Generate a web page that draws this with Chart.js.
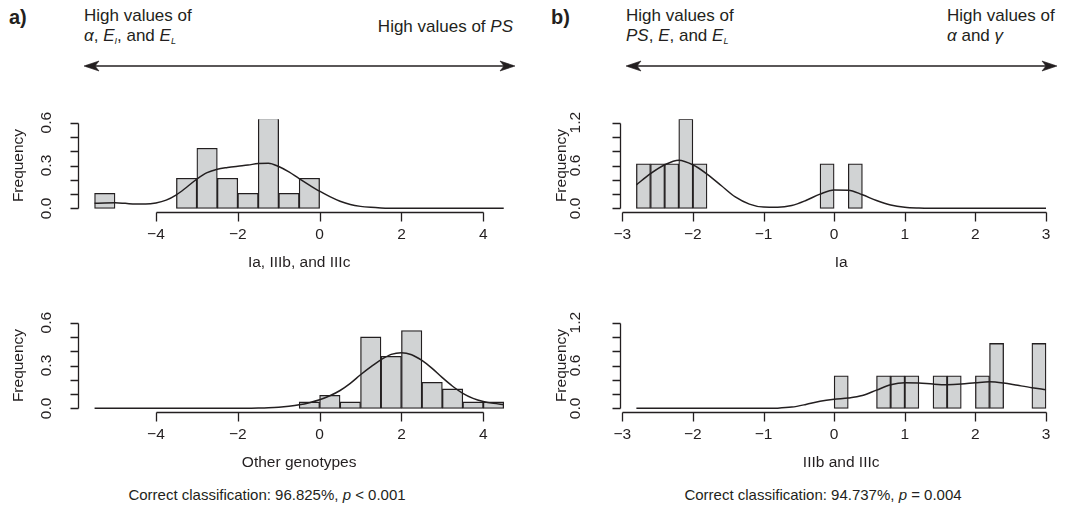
<!DOCTYPE html>
<html>
<head>
<meta charset="utf-8">
<script src="https://cdn.jsdelivr.net/npm/chart.js@4.4.1/dist/chart.umd.min.js"></script>
<style>
  body { margin: 0; background: #fff; }
  #page { position: relative; width: 1068px; height: 514px; overflow: hidden;
          font-family: "Liberation Sans", Arial, Helvetica, sans-serif; color: #231f20; }
  canvas { position: absolute; }
  .tag { position: absolute; font-size: 20px; font-weight: bold; line-height: 24px; }
  .hd { position: absolute; font-size: 17px; line-height: 20px; white-space: nowrap; }
  .hd sub { font-size: 9px; vertical-align: -3px; line-height: 0; font-style: italic; }
  .cap { position: absolute; width: 534px; text-align: center; font-size: 15px; line-height: 20px; }
</style>
</head>
<body>
<div id="page">
  <div class="tag" style="left:9px;top:5px">a)</div>
  <div class="hd" style="left:84px;top:6px">High values of<br><i>α</i>, <i>E</i><sub>I</sub>, and <i>E</i><sub>L</sub></div>
  <div class="hd" style="right:555px;top:17px">High values of <i>PS</i></div>

  <div class="tag" style="left:551px;top:5px">b)</div>
  <div class="hd" style="left:626px;top:6px">High values of<br><i>PS</i>, <i>E</i>, and <i>E</i><sub>L</sub></div>
  <div class="hd" style="left:947px;top:6px">High values of<br><i>α</i> and <i>γ</i></div>

  <svg width="1068" height="514" style="position:absolute;left:0;top:0">
    <g stroke="#231f20" stroke-width="1.6" fill="#231f20">
      <line x1="86" y1="66" x2="513" y2="66"/>
      <path d="M84,66 L99,61 L95,66 L99,71 Z" stroke-width="0.6"/>
      <path d="M515,66 L500,61 L504,66 L500,71 Z" stroke-width="0.6"/>
      <line x1="628" y1="66" x2="1055" y2="66"/>
      <path d="M626,66 L641,61 L637,66 L641,71 Z" stroke-width="0.6"/>
      <path d="M1057,66 L1042,61 L1046,66 L1042,71 Z" stroke-width="0.6"/>
    </g>
  </svg>

  <canvas id="aTop" width="534" height="180" style="left:0;top:100px"></canvas>
  <canvas id="aBot" width="534" height="180" style="left:0;top:300px"></canvas>
  <canvas id="bTop" width="534" height="180" style="left:534px;top:100px"></canvas>
  <canvas id="bBot" width="534" height="180" style="left:534px;top:300px"></canvas>

  <div class="cap" style="left:0;top:485px">Correct classification: 96.825%, <i>p</i> &lt; 0.001</div>
  <div class="cap" style="left:556px;top:485px">Correct classification: 94.737%, <i>p</i> = 0.004</div>
</div>

<script>
// histogram bin midpoints (width 0.5 in a, 0.2 in b)
var aMids = [-5.25, -4.75, -4.25, -3.75, -3.25, -2.75, -2.25, -1.75, -1.25, -0.75,
             -0.25, 0.25, 0.75, 1.25, 1.75, 2.25, 2.75, 3.25, 3.75, 4.25];
var bMids = [-2.7, -2.5, -2.3, -2.1, -1.9, -1.7, -1.5, -1.3, -1.1, -0.9, -0.7, -0.5, -0.3, -0.1,
             0.1, 0.3, 0.5, 0.7, 0.9, 1.1, 1.3, 1.5, 1.7, 1.9, 2.1, 2.3, 2.5, 2.7, 2.9];

// bar heights (density)
var aTopFreq = [0.105, 0, 0, 0, 0.211, 0.421, 0.211, 0.105, 0.632, 0.105,
                0.211, 0, 0, 0, 0, 0, 0, 0, 0, 0];
var aBotFreq = [0, 0, 0, 0, 0, 0, 0, 0, 0, 0,
                0.045, 0.091, 0.045, 0.5, 0.364, 0.545, 0.182, 0.136, 0.045, 0.045];
var bTopFreq = [0.625, 0.625, 0.625, 1.25, 0.625, 0, 0, 0, 0, 0, 0, 0, 0, 0.625,
                0, 0.625, 0, 0, 0, 0, 0, 0, 0, 0, 0, 0, 0, 0, 0];
var bBotFreq = [0, 0, 0, 0, 0, 0, 0, 0, 0, 0, 0, 0, 0, 0,
                0.455, 0, 0, 0.455, 0.455, 0.455, 0, 0.455, 0.455, 0, 0.455, 0.909, 0, 0, 0.909];

// kernel density curves, a: every 0.25 from -5.5, b: every 0.2 from -2.8
var aTopDens = [0.035, 0.038, 0.039, 0.035, 0.030, 0.030, 0.038, 0.058, 0.095, 0.148,
                0.205, 0.250, 0.274, 0.286, 0.295, 0.303, 0.314, 0.316, 0.293, 0.255,
                0.208, 0.163, 0.120, 0.082, 0.050, 0.027, 0.014, 0.007, 0.003, 0.001,
                0, 0, 0, 0, 0, 0, 0, 0, 0, 0, 0];
var aBotDens = [0, 0, 0, 0, 0, 0, 0, 0, 0, 0, 0, 0, 0, 0, 0,
                0.001, 0.002, 0.004, 0.008, 0.015, 0.025, 0.040, 0.060, 0.088, 0.125,
                0.175, 0.235, 0.290, 0.340, 0.378, 0.390, 0.375, 0.335, 0.280, 0.215,
                0.155, 0.105, 0.070, 0.048, 0.035, 0.027];
var bTopDens = [0.33, 0.485, 0.61, 0.675, 0.61, 0.48, 0.32, 0.16, 0.06, 0.018,
                0.015, 0.04, 0.11, 0.2, 0.258, 0.255, 0.19, 0.11, 0.048, 0.016,
                0.005, 0.001, 0, 0, 0, 0, 0, 0, 0, 0];
var bBotDens = [0, 0, 0, 0, 0, 0, 0, 0, 0, 0,
                0.003, 0.018, 0.055, 0.100, 0.128, 0.145, 0.18, 0.255, 0.33, 0.36,
                0.355, 0.34, 0.332, 0.34, 0.358, 0.372, 0.355, 0.322, 0.29, 0.262];

// axis ticks
var aXTicks = [-4, -2, 0, 2, 4];
var bXTicks = [-3, -2, -1, 0, 1, 2, 3];
var aYTicks = [0, 0.1, 0.2, 0.3, 0.4, 0.5, 0.6];
var bYTicks = [0, 0.2, 0.4, 0.6, 0.8, 1.0, 1.2];
var aYLabels = [0, 0.3, 0.6];
var bYLabels = [0, 0.6, 1.2];

var ink = '#231f20';
var barFill = '#d1d3d4';
var font = '"Liberation Sans", Arial, Helvetica, sans-serif';

function grid(from, step, n) {
    var out = [];
    for (var i = 0; i < n; i++) out.push(+(from + i * step).toFixed(3));
    return out;
}

function fmt(v) {
    var s = Math.abs(v) < 1e-9 ? '0' : String(Math.abs(v));
    return v < 0 ? '\u2212' + s : s;
}

// base-graphics style axes: lines only span the ticks, labels rotated on y
var rAxes = {
    id: 'rAxes',
    afterDraw: function(chart, args, o) {
        var ctx = chart.ctx, area = chart.chartArea;
        var xs = chart.scales.x, ys = chart.scales.y;
        ctx.save();
        ctx.strokeStyle = ink;
        ctx.fillStyle = ink;
        ctx.lineWidth = 1.3;
        ctx.font = '15.5px ' + font;

        var yb = Math.round(area.bottom) + 0.5;
        ctx.beginPath();
        ctx.moveTo(Math.round(xs.getPixelForValue(o.xTicks[0])) + 0.5, yb);
        ctx.lineTo(Math.round(xs.getPixelForValue(o.xTicks[o.xTicks.length - 1])) + 0.5, yb);
        o.xTicks.forEach(function(v) {
            var px = Math.round(xs.getPixelForValue(v)) + 0.5;
            ctx.moveTo(px, yb);
            ctx.lineTo(px, yb + 9);
        });
        var xl = Math.round(area.left) + 0.5;
        ctx.moveTo(xl, Math.round(ys.getPixelForValue(o.yTicks[0])) + 0.5);
        ctx.lineTo(xl, Math.round(ys.getPixelForValue(o.yTicks[o.yTicks.length - 1])) + 0.5);
        o.yTicks.forEach(function(v) {
            var py = Math.round(ys.getPixelForValue(v)) + 0.5;
            ctx.moveTo(xl, py);
            ctx.lineTo(xl - 8, py);
        });
        ctx.stroke();

        ctx.textAlign = 'center';
        ctx.textBaseline = 'middle';
        o.xTicks.forEach(function(v) {
            ctx.fillText(fmt(v), xs.getPixelForValue(v), area.bottom + 23);
        });
        ctx.fillText(o.xTitle, (area.left + area.right) / 2, area.bottom + 51);

        o.yLabels.forEach(function(v) {
            ctx.save();
            ctx.translate(area.left - o.yLabelGap, ys.getPixelForValue(v));
            ctx.rotate(-Math.PI / 2);
            ctx.fillText(v.toFixed(1), 0, 0);
            ctx.restore();
        });
        ctx.save();
        ctx.translate(area.left - o.yTitleGap, (area.top + area.bottom) / 2);
        ctx.rotate(-Math.PI / 2);
        ctx.fillText('Frequency', 0, 0);
        ctx.restore();
        ctx.restore();
    }
};

function makePanel(id, mids, freq, densX, dens, p) {
    var bars = mids.map(function(m, i) { return { x: m, y: freq[i] }; });
    var curve = densX.map(function(x, i) { return { x: x, y: dens[i] }; });
    return new Chart(document.getElementById(id).getContext('2d'), {
        type: 'bar',
        data: {
            datasets: [{
                type: 'line',
                data: curve,
                borderColor: ink,
                borderWidth: 1.5,
                pointRadius: 0,
                fill: false,
                cubicInterpolationMode: 'monotone',
                order: 0
            }, {
                type: 'bar',
                data: bars,
                backgroundColor: barFill,
                borderColor: ink,
                borderWidth: 1.3,
                borderSkipped: false,
                barPercentage: 1,
                categoryPercentage: 1,
                order: 1
            }]
        },
        options: {
            responsive: false,
            animation: false,
            events: [],
            layout: { padding: p.padding },
            plugins: {
                legend: { display: false },
                tooltip: { enabled: false },
                rAxes: {
                    xTicks: p.xTicks, yTicks: p.yTicks, yLabels: p.yLabels,
                    xTitle: p.xTitle, yLabelGap: p.yLabelGap, yTitleGap: p.yTitleGap
                }
            },
            scales: {
                x: { type: 'linear', min: p.xMin, max: p.xMax, offset: false, display: false },
                y: { type: 'linear', min: p.yMin, max: p.yMax, display: false }
            }
        },
        plugins: [rAxes]
    });
}

var aGrid = grid(-5.5, 0.25, 41);
var bGrid = grid(-2.8, 0.2, 30);

var aOpts = {
    padding: { left: 78.2, right: 13.9, top: 19.2, bottom: 68.2 },
    xMin: -5.9, xMax: 4.9, yMin: -0.024, yMax: 0.624,
    xTicks: aXTicks, yTicks: aYTicks, yLabels: aYLabels,
    yLabelGap: 31, yTitleGap: 59
};
var bOpts = {
    padding: { left: 86, right: 5.6, top: 19.2, bottom: 68.2 },
    xMin: -3.032, xMax: 3.232, yMin: -0.048, yMax: 1.248,
    xTicks: bXTicks, yTicks: bYTicks, yLabels: bYLabels,
    yLabelGap: 44, yTitleGap: 58
};

makePanel('aTop', aMids, aTopFreq, aGrid, aTopDens, Object.assign({ xTitle: 'Ia, IIIb, and IIIc' }, aOpts));
makePanel('aBot', aMids, aBotFreq, aGrid, aBotDens, Object.assign({ xTitle: 'Other genotypes' }, aOpts));
makePanel('bTop', bMids, bTopFreq, bGrid, bTopDens, Object.assign({ xTitle: 'Ia' }, bOpts));
makePanel('bBot', bMids, bBotFreq, bGrid, bBotDens, Object.assign({ xTitle: 'IIIb and IIIc' }, bOpts));
</script>
</body>
</html>
